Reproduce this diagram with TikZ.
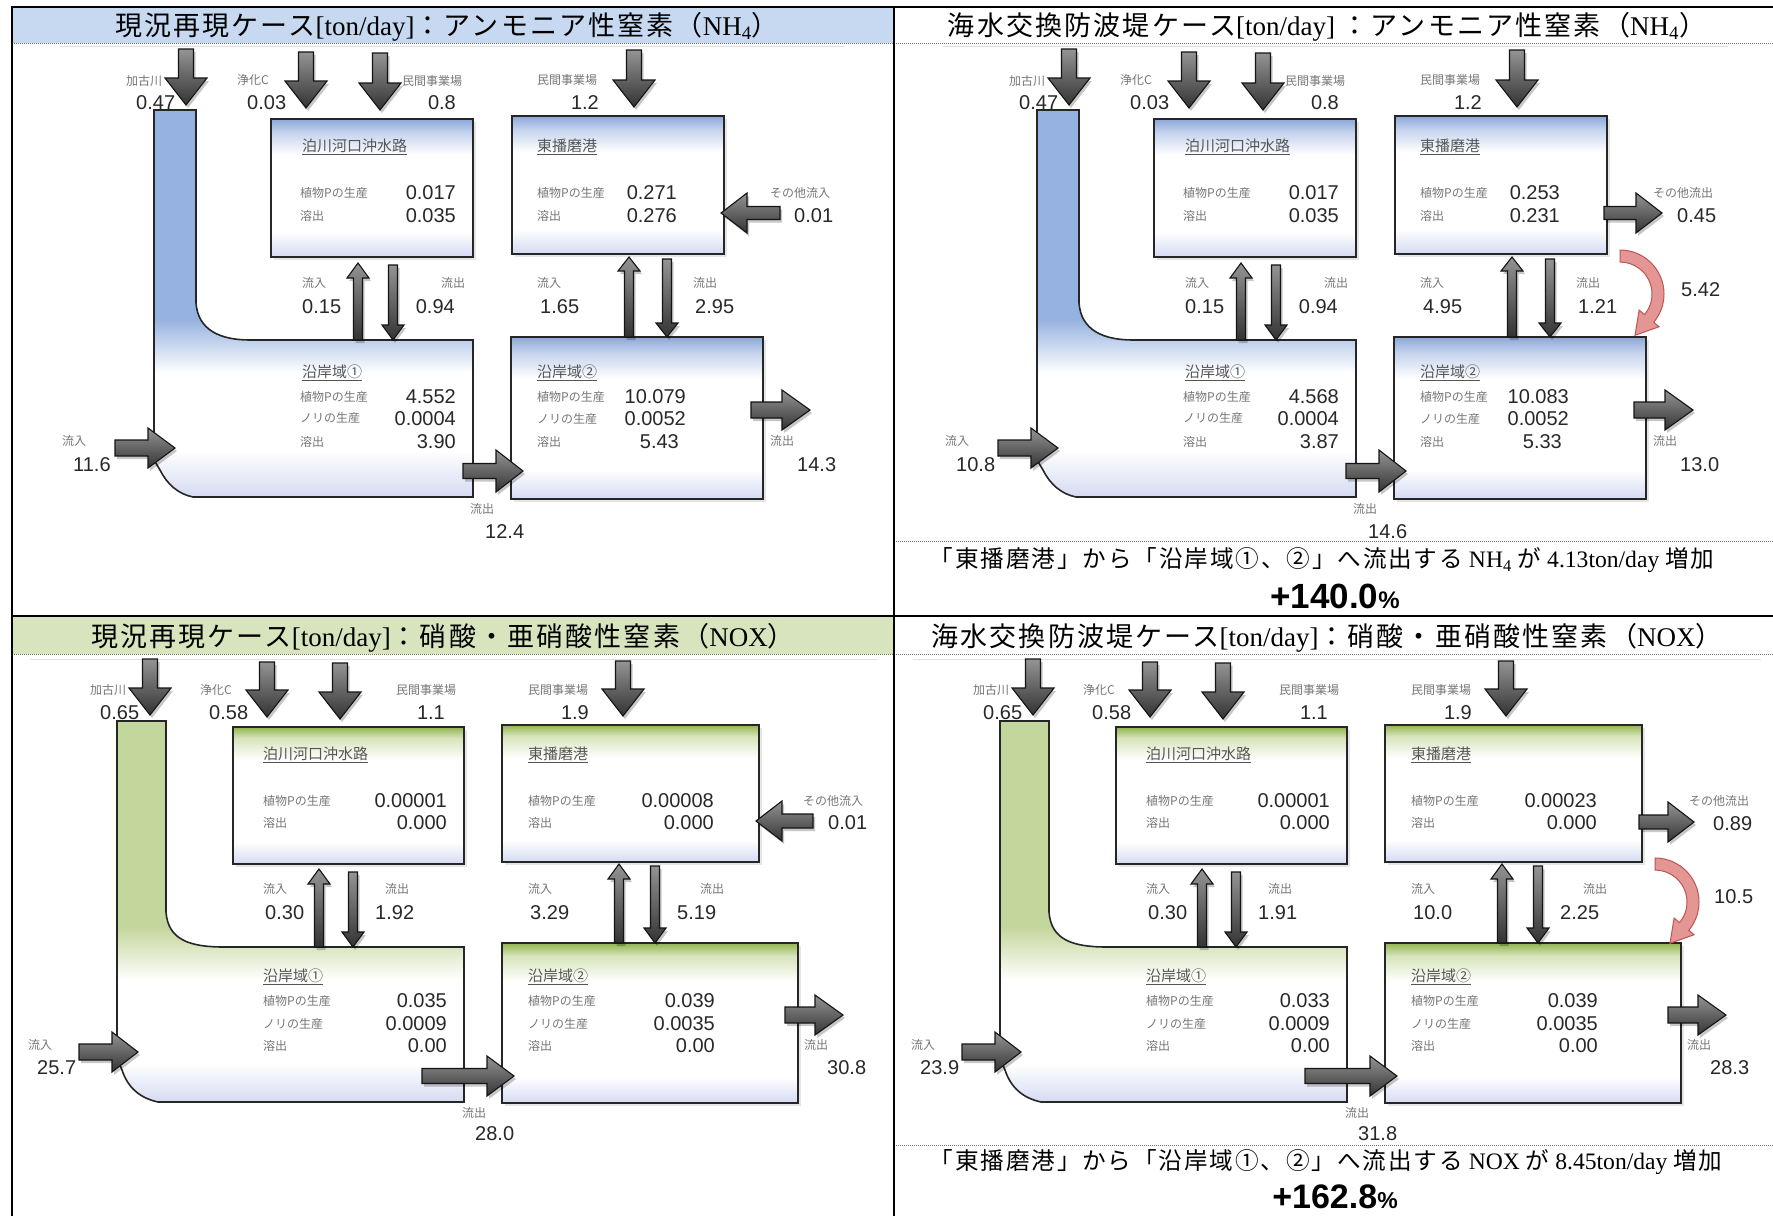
\documentclass[tikz,border=0pt]{standalone}
\usepackage{fontspec}
\setmainfont{Liberation Serif}
\newfontfamily\jp{Noto Sans CJK JP}
\newfontfamily\jph{Noto Sans CJK JP}[LetterSpace=8]
\newfontfamily\arial{Liberation Sans}
\usetikzlibrary{calc}
\definecolor{hdrblue}{RGB}{198,217,241}
\definecolor{hdrgreen}{RGB}{215,228,189}
\definecolor{nhtop}{RGB}{140,168,216}
\definecolor{nhlight}{RGB}{198,212,238}
\definecolor{nhch}{RGB}{150,178,224}
\definecolor{lav}{RGB}{212,218,242}
\definecolor{nxtop}{RGB}{146,180,80}
\definecolor{nxlight}{RGB}{214,228,186}
\definecolor{nxch}{RGB}{195,214,155}
\definecolor{labc}{RGB}{118,118,118}
\definecolor{numc}{RGB}{40,40,40}
\definecolor{ttlc}{RGB}{85,85,85}
\definecolor{redf}{RGB}{228,150,148}
\definecolor{redd}{RGB}{190,85,82}
\pgfdeclareverticalshading{nhbox}{100bp}{color(0bp)=(lav); color(25bp)=(lav); color(34bp)=(white); color(62bp)=(white); color(70bp)=(nhlight); color(75bp)=(nhtop); color(100bp)=(nhtop)}
\pgfdeclareverticalshading{nxbox}{100bp}{color(0bp)=(lav); color(25bp)=(lav); color(33bp)=(white); color(63bp)=(white); color(71bp)=(nxlight); color(75bp)=(nxtop); color(100bp)=(nxtop)}
\pgfdeclareverticalshading{nhchs}{100bp}{color(0bp)=(lav); color(25bp)=(lav); color(31bp)=(white); color(41bp)=(white); color(48bp)=(nhch); color(100bp)=(nhch)}
\pgfdeclareverticalshading{nxchs}{100bp}{color(0bp)=(lav); color(25bp)=(lav); color(30bp)=(white); color(41bp)=(white); color(48bp)=(nxch); color(100bp)=(nxch)}
\tikzset{
  tbl/.style={line width=2.4pt, black},
  dotl/.style={line width=0.8pt, black!55, dash pattern=on 0.8pt off 1.2pt},
  faint/.style={line width=1pt, black!12},
  boxst/.style={draw=black!85, line width=1.6pt},
  bshadow/.style={fill=black, opacity=0.10},
  ashadow/.style={fill=black, opacity=0.22},
  arrst/.style={draw=black!92, line width=1.1pt, top color=black!42, bottom color=black!80},
  redst/.style={draw=redd, line width=1pt, fill=redf},
  lab/.style={font={\jp\fontsize{12}{14}\selectfont}, text=labc, inner sep=0pt, anchor=west},
  ttl/.style={font={\jp\fontsize{15}{17}\selectfont}, text=ttlc, inner sep=0pt, anchor=west},
  num/.style={font={\arial\fontsize{20}{22}\selectfont}, text=numc, inner sep=0pt, anchor=west},
  numr/.style={num, anchor=east},
  hdr/.style={font={\fontsize{27}{30}\selectfont}, inner sep=0pt},
  summ/.style={font={\fontsize{23.6}{26}\selectfont}, inner sep=0pt},
  pct/.style={inner sep=0pt}
}
% block arrow: tip x, tip y, angle, length, shaft half width, head half width, head length
\newcommand\barw[7]{%
  \begin{scope}[shift={({#1+2},{#2+3})},rotate=#3]
    \fill[ashadow] (0,0) -- (-#7,#6) -- (-#7,#5) -- (-#4,#5) -- (-#4,-#5) -- (-#7,-#5) -- (-#7,-#6) -- cycle;
  \end{scope}
  \begin{scope}[shift={(#1,#2)},rotate=#3]
    \shade[arrst] (0,0) -- (-#7,#6) -- (-#7,#5) -- (-#4,#5) -- (-#4,-#5) -- (-#7,-#5) -- (-#7,-#6) -- cycle;
  \end{scope}}
% curved red arrow, origin at the lower right corner of the box
\newcommand\redarr[2]{%
  \begin{scope}[shift={({#1+13},{#2+40})}]
    \filldraw[redst] (0,-44) arc[start angle=-90, end angle=40, x radius=44, y radius=44] -- (39.1,32.7) -- (15,41.3) -- (19.1,16.1) -- (24.5,20.6) arc[start angle=40, end angle=-90, x radius=32, y radius=32] -- cycle;
  \end{scope}}
\newcommand\NHpanel[1]{%
  \fill[bshadow] (274,122) rectangle (476,260);
  \fill[bshadow] (515,119) rectangle (727,257);
  \fill[bshadow] (514,340) rectangle (766,502);
  \shade[boxst,shading=nhchs] (154,110) -- (196,110) -- (196,303) .. controls (198,330) and (220,340) .. (250,340) -- (473,340) -- (473,497) -- (193,497) .. controls (178,494) and (167,484) .. (160,470) -- (154,460) -- cycle;
  \shade[boxst,shading=nhbox] (271,119) rectangle (473,257);
  \shade[boxst,shading=nhbox] (512,116) rectangle (724,254);
  \shade[boxst,shading=nhbox] (511,337) rectangle (763,499);
  \node[ttl] (#1t1) at (302,147) {\underline{泊川河口沖水路}};
  \node[ttl] (#1t2) at (537,147) {\underline{東播磨港}};
  \node[ttl] (#1t3) at (302,373) {\underline{沿岸域①}};
  \node[ttl] (#1t4) at (537,373) {\underline{沿岸域②}};
  \node[lab] (#1l1) at (126,81) {加古川};
  \node[lab] (#1l2) at (237,80) {浄化C};
  \node[lab] (#1l3) at (402,81) {民間事業場};
  \node[lab] (#1l4) at (537,80) {民間事業場};
  \node[lab] (#1l5) at (300,193) {植物Pの生産};
  \node[lab] (#1l6) at (300,216) {溶出};
  \node[lab] (#1l7) at (537,193) {植物Pの生産};
  \node[lab] (#1l8) at (537,216) {溶出};
  \node[lab] (#1l9) at (302,283) {流入};
  \node[lab] (#1l10) at (441,283) {流出};
  \node[lab] (#1l11) at (537,283) {流入};
  \node[lab] (#1l12) at (693,283) {流出};
  \node[lab] (#1l13) at (300,397) {植物Pの生産};
  \node[lab] (#1l14) at (300,418) {ノリの生産};
  \node[lab] (#1l15) at (300,442) {溶出};
  \node[lab] (#1l16) at (537,397) {植物Pの生産};
  \node[lab] (#1l17) at (537,419) {ノリの生産};
  \node[lab] (#1l18) at (537,442) {溶出};
  \node[lab] (#1l19) at (62,441) {流入};
  \node[lab] (#1l20) at (470,509) {流出};
  \node[lab] (#1l21) at (770,441) {流出};
  \node[num] (#1n1) at (136,103) {\qA};
  \node[num] (#1n2) at (247,103) {\qB};
  \node[numr] (#1n3) at (456,103) {\qC};
  \node[numr] (#1n4) at (599,103) {\qD};
  \node[numr] (#1n5) at (456,193) {\qE};
  \node[numr] (#1n6) at (456,216) {\qF};
  \node[numr] (#1n7) at (677,193) {\qG};
  \node[numr] (#1n8) at (677,216) {\qH};
  \node[num] (#1n9) at (302,307) {\qJ};
  \node[numr] (#1n10) at (455,307) {\qK};
  \node[num] (#1n11) at (540,307) {\qL};
  \node[num] (#1n12) at (695,307) {\qM};
  \node[numr] (#1n13) at (456,397) {\qN};
  \node[numr] (#1n14) at (456,419) {\qO};
  \node[numr] (#1n15) at (456,442) {\qP};
  \node[numr] (#1n16) at (686,397) {\qQ};
  \node[numr] (#1n17) at (686,419) {\qR};
  \node[numr] (#1n18) at (679,442) {\qS};
  \node[num] (#1n19) at (73,465) {\qT};
  \node[num] (#1n20) at (485,532) {\qU};
  \node[num] (#1n21) at (797,465) {\qV};
  \barw{186}{105}{-90}{56}{7.5}{21}{27}
  \barw{306}{108}{-90}{56}{7.5}{21}{27}
  \barw{380}{110}{-90}{57}{7.5}{21}{27}
  \barw{634}{107}{-90}{57}{7.5}{21}{27}
  \barw{358}{263}{90}{77}{4.5}{11}{15}
  \barw{393}{340}{-90}{75}{4.5}{11}{15}
  \barw{629}{257}{90}{80}{4.5}{11}{14}
  \barw{667}{337}{-90}{78}{4.5}{11}{14}
  \barw{175}{448}{0}{60}{8}{20}{27}
  \barw{523}{471}{0}{60}{7.5}{21}{27}
  \barw{810}{410}{0}{59}{8}{20}{28}
}
\newcommand\NXpanel[1]{%
  \fill[bshadow] (236,730) rectangle (467,867);
  \fill[bshadow] (505,728) rectangle (762,865);
  \fill[bshadow] (505,946) rectangle (801,1106);
  \shade[boxst,shading=nxchs] (117,721) -- (166,721) -- (166,912) .. controls (168,940) and (190,947) .. (224,947) -- (464,947) -- (464,1102) -- (158,1102) .. controls (140,1098) and (128,1088) .. (122,1070) -- (117,1058) -- cycle;
  \shade[boxst,shading=nxbox] (233,727) rectangle (464,864);
  \shade[boxst,shading=nxbox] (502,725) rectangle (759,862);
  \shade[boxst,shading=nxbox] (502,943) rectangle (798,1103);
  \node[ttl] (#1t1) at (263,755) {\underline{泊川河口沖水路}};
  \node[ttl] (#1t2) at (528,755) {\underline{東播磨港}};
  \node[ttl] (#1t3) at (263,977) {\underline{沿岸域①}};
  \node[ttl] (#1t4) at (528,977) {\underline{沿岸域②}};
  \node[lab] (#1l1) at (90,690) {加古川};
  \node[lab] (#1l2) at (200,690) {浄化C};
  \node[lab] (#1l3) at (396,690) {民間事業場};
  \node[lab] (#1l4) at (528,690) {民間事業場};
  \node[lab] (#1l5) at (263,801) {植物Pの生産};
  \node[lab] (#1l6) at (263,823) {溶出};
  \node[lab] (#1l7) at (528,801) {植物Pの生産};
  \node[lab] (#1l8) at (528,823) {溶出};
  \node[lab] (#1l9) at (263,889) {流入};
  \node[lab] (#1l10) at (385,889) {流出};
  \node[lab] (#1l11) at (528,889) {流入};
  \node[lab] (#1l12) at (700,889) {流出};
  \node[lab] (#1l13) at (263,1001) {植物Pの生産};
  \node[lab] (#1l14) at (263,1024) {ノリの生産};
  \node[lab] (#1l15) at (263,1046) {溶出};
  \node[lab] (#1l16) at (528,1001) {植物Pの生産};
  \node[lab] (#1l17) at (528,1024) {ノリの生産};
  \node[lab] (#1l18) at (528,1046) {溶出};
  \node[lab] (#1l19) at (28,1045) {流入};
  \node[lab] (#1l20) at (462,1113) {流出};
  \node[lab] (#1l21) at (804,1045) {流出};
  \node[num] (#1n1) at (100,713) {\qA};
  \node[num] (#1n2) at (209,713) {\qB};
  \node[numr] (#1n3) at (445,713) {\qC};
  \node[numr] (#1n4) at (589,713) {\qD};
  \node[numr] (#1n5) at (447,801) {\qE};
  \node[numr] (#1n6) at (447,823) {\qF};
  \node[numr] (#1n7) at (714,801) {\qG};
  \node[numr] (#1n8) at (714,823) {\qH};
  \node[num] (#1n9) at (265,913) {\qJ};
  \node[num] (#1n10) at (375,913) {\qK};
  \node[num] (#1n11) at (530,913) {\qL};
  \node[num] (#1n12) at (677,913) {\qM};
  \node[numr] (#1n13) at (447,1001) {\qN};
  \node[numr] (#1n14) at (447,1024) {\qO};
  \node[numr] (#1n15) at (447,1046) {\qP};
  \node[numr] (#1n16) at (715,1001) {\qQ};
  \node[numr] (#1n17) at (715,1024) {\qR};
  \node[numr] (#1n18) at (715,1046) {\qS};
  \node[num] (#1n19) at (37,1068) {\qT};
  \node[num] (#1n20) at (475,1134) {\qU};
  \node[num] (#1n21) at (827,1068) {\qV};
  \barw{150}{715}{-90}{56}{7.5}{21}{27}
  \barw{267}{717}{-90}{55}{7.5}{21}{27}
  \barw{340}{719}{-90}{56}{7.5}{21}{27}
  \barw{623}{716}{-90}{55}{7.5}{21}{27}
  \barw{319}{869}{90}{78}{4.5}{11}{15}
  \barw{353}{947}{-90}{75}{4.5}{11}{15}
  \barw{619}{864}{90}{79}{4.5}{11}{15}
  \barw{655}{943}{-90}{77}{4.5}{11}{15}
  \barw{138}{1052}{0}{59}{8}{20}{26}
  \barw{514}{1076}{0}{92}{7.5}{20}{27}
  \barw{843}{1015}{0}{58}{8}{20}{28}
}
\begin{document}
\begin{tikzpicture}[x=1pt,y=-1pt]
\useasboundingbox (0,0) rectangle (1773,1216);
\fill[white] (0,0) rectangle (1773,1216);
% header bands
\fill[hdrblue] (12,7) rectangle (894,43);
\fill[hdrgreen] (12,616) rectangle (894,654);
\draw[dotl] (12,43) -- (1773,43);
\draw[dotl] (12,654) -- (1773,654);
\draw[dotl] (894,541) -- (1773,541);
\draw[dotl] (894,1145) -- (1773,1145);
\draw[faint] (60,46) -- (845,46);
\draw[faint] (943,46) -- (1728,46);
\draw[faint] (30,659) -- (878,659);
\draw[faint] (913,659) -- (1761,659);
% headers
\node[hdr] (h1) at (447,27) {{\jph 現況再現ケース}[ton/day]{\jph ：アンモニア性窒素（}NH\textsubscript{4}{\jph ）}};
\node[hdr] (h2) at (1327,27) {{\jph 海水交換防波堤ケース}[ton/day] {\jph ：アンモニア性窒素（}NH\textsubscript{4}{\jph ）}};
\node[hdr] (h3) at (443,638) {{\jph 現況再現ケース}[ton/day]{\jph ：硝酸・亜硝酸性窒素（}NOX{\jph ）}};
\node[hdr] (h4) at (1327,638) {{\jph 海水交換防波堤ケース}[ton/day]{\jph ：硝酸・亜硝酸性窒素（}NOX{\jph ）}};
% top left panel
\def\qA{0.47}\def\qB{0.03}\def\qC{0.8}\def\qD{1.2}\def\qE{0.017}\def\qF{0.035}\def\qG{0.271}\def\qH{0.276}
\def\qJ{0.15}\def\qK{0.94}\def\qL{1.65}\def\qM{2.95}\def\qN{4.552}\def\qO{0.0004}\def\qP{3.90}
\def\qQ{10.079}\def\qR{0.0052}\def\qS{5.43}\def\qT{11.6}\def\qU{12.4}\def\qV{14.3}
\NHpanel{a}
\node[lab] (aso) at (770,193) {その他流入};
\node[num] (asov) at (794,216) {0.01};
\barw{721}{213}{180}{59}{6.5}{20}{26}
% top right panel
\begin{scope}[shift={(883,0)}]
\def\qA{0.47}\def\qB{0.03}\def\qC{0.8}\def\qD{1.2}\def\qE{0.017}\def\qF{0.035}\def\qG{0.253}\def\qH{0.231}
\def\qJ{0.15}\def\qK{0.94}\def\qL{4.95}\def\qM{1.21}\def\qN{4.568}\def\qO{0.0004}\def\qP{3.87}
\def\qQ{10.083}\def\qR{0.0052}\def\qS{5.33}\def\qT{10.8}\def\qU{14.6}\def\qV{13.0}
\NHpanel{b}
\node[lab] (bso) at (770,193) {その他流出};
\node[num] (bsov) at (794,216) {0.45};
\barw{779}{213}{0}{58}{6.5}{20}{26}
\redarr{724}{254}
\node[num] (bred) at (798,290) {5.42};
\end{scope}
% bottom left panel
\def\qA{0.65}\def\qB{0.58}\def\qC{1.1}\def\qD{1.9}\def\qE{0.00001}\def\qF{0.000}\def\qG{0.00008}\def\qH{0.000}
\def\qJ{0.30}\def\qK{1.92}\def\qL{3.29}\def\qM{5.19}\def\qN{0.035}\def\qO{0.0009}\def\qP{0.00}
\def\qQ{0.039}\def\qR{0.0035}\def\qS{0.00}\def\qT{25.7}\def\qU{28.0}\def\qV{30.8}
\NXpanel{c}
\node[lab] (cso) at (803,801) {その他流入};
\node[num] (csov) at (828,823) {0.01};
\barw{756}{821}{180}{57}{7}{20}{26}
% bottom right panel
\begin{scope}[shift={(883,0)}]
\def\qA{0.65}\def\qB{0.58}\def\qC{1.1}\def\qD{1.9}\def\qE{0.00001}\def\qF{0.000}\def\qG{0.00023}\def\qH{0.000}
\def\qJ{0.30}\def\qK{1.91}\def\qL{10.0}\def\qM{2.25}\def\qN{0.033}\def\qO{0.0009}\def\qP{0.00}
\def\qQ{0.039}\def\qR{0.0035}\def\qS{0.00}\def\qT{23.9}\def\qU{31.8}\def\qV{28.3}
\NXpanel{d}
\node[lab] (dso) at (806,801) {その他流出};
\node[num] (dsov) at (830,824) {0.89};
\barw{811}{822}{0}{55}{7}{20}{26}
\redarr{759}{862}
\node[num] (dred) at (831,897) {10.5};
\end{scope}
% summaries
\node[summ] (s1) at (1322,560) {{\jph 「東播磨港」から「沿岸域①、②」へ流出する} NH\textsubscript{4} {\jph が} 4.13ton/day {\jph 増加}};
\node[pct] (p1) at (1335,596) {{\arial\bfseries\fontsize{35}{37}\selectfont +140.0}{\arial\bfseries\fontsize{24}{26}\selectfont \%}};
\node[summ] (s2) at (1326,1162) {{\jph 「東播磨港」から「沿岸域①、②」へ流出する} NOX {\jph が} 8.45ton/day {\jph 増加}};
\node[pct] (p2) at (1335,1197) {{\arial\bfseries\fontsize{34}{36}\selectfont +162.8}{\arial\bfseries\fontsize{23}{25}\selectfont \%}};
% table lines
\draw[tbl] (12,1216) -- (12,7) -- (1773,7);
\draw[tbl] (12,616) -- (1773,616);
\draw[tbl] (894,7) -- (894,1216);
\end{tikzpicture}
\end{document}
